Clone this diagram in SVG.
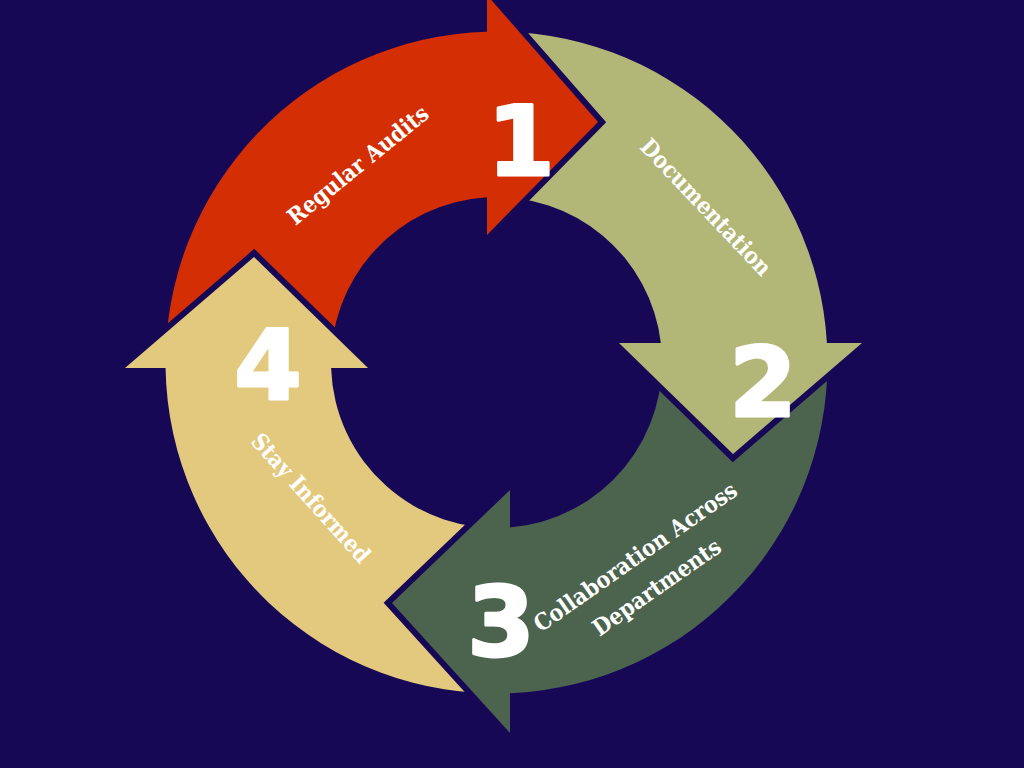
<svg xmlns="http://www.w3.org/2000/svg" width="1024" height="768" viewBox="0 0 1024 768">
  <style>
    .gap { fill: none; stroke: #170856; stroke-width: 12; stroke-linejoin: miter; }
    .num { font-family: "DejaVu Sans", sans-serif; font-weight: bold; font-size: 97px; fill: #ffffff; stroke: #ffffff; stroke-width: 3; stroke-linejoin: round; text-anchor: middle; }
    .lbl { font-family: "DejaVu Serif Condensed", "DejaVu Serif", serif; font-stretch: condensed; font-weight: bold; font-size: 23px; fill: #ffffff; text-anchor: middle; }
  </style>
  <rect x="0" y="0" width="1024" height="768" fill="#170856"/>

  <g id="shafts">
    <path id="shaft-1" fill="#D42F04" d="M165.55,368 A331,331 0 0 1 487,31.64 L487,197.27 A165.5,165.5 0 0 0 331.1,368 Z"/>
    <path id="shaft-2" fill="#B2B677" d="M487,31.64 A331,331 0 0 1 826.93,343 L660.85,343 A165.5,165.5 0 0 0 487,197.27 Z"/>
    <path id="shaft-3" fill="#4C634E" d="M826.93,343 A331,331 0 0 1 510,693.22 L510,527.45 A165.5,165.5 0 0 0 660.85,343 Z"/>
    <path id="shaft-4" fill="#E2C97E" d="M510,693.22 A331,331 0 0 1 165.55,368 L331.1,368 A165.5,165.5 0 0 0 510,527.45 Z"/>
  </g>

  <g id="node-1">
    <polyline class="gap" points="487,-5 598,122 487,235"/>
    <polygon fill="#D42F04" points="487,-5 598,122 487,235"/>
    <text class="num" x="521" y="175">1</text>
    <text class="lbl" transform="translate(358,165) rotate(-39)" x="0" y="8">Regular Audits</text>
  </g>

  <g id="node-2">
    <polyline class="gap" points="862,343 733,454 619,343"/>
    <polygon fill="#B2B677" points="862,343 733,454 619,343"/>
    <text class="num" x="763" y="416">2</text>
    <text class="lbl" transform="translate(706,207) rotate(46.5)" x="0" y="8">Documentation</text>
  </g>

  <g id="node-3">
    <polyline class="gap" points="510,733 392,603 510,490"/>
    <polygon fill="#4C634E" points="510,733 392,603 510,490"/>
    <text class="num" x="501" y="656">3</text>
    <text class="lbl" transform="translate(646,572) rotate(-35)"><tspan x="0" y="-10.5">Collaboration Across</tspan><tspan x="0" y="26.5">Departments</tspan></text>
  </g>

  <g id="node-4">
    <polyline class="gap" points="125,368 254,257 368,368"/>
    <polygon fill="#E2C97E" points="125,368 254,257 368,368"/>
    <text class="num" x="268" y="399">4</text>
    <text class="lbl" transform="translate(311,498) rotate(48)" x="0" y="8">Stay Informed</text>
  </g>

  <g id="connectors"></g>
</svg>
